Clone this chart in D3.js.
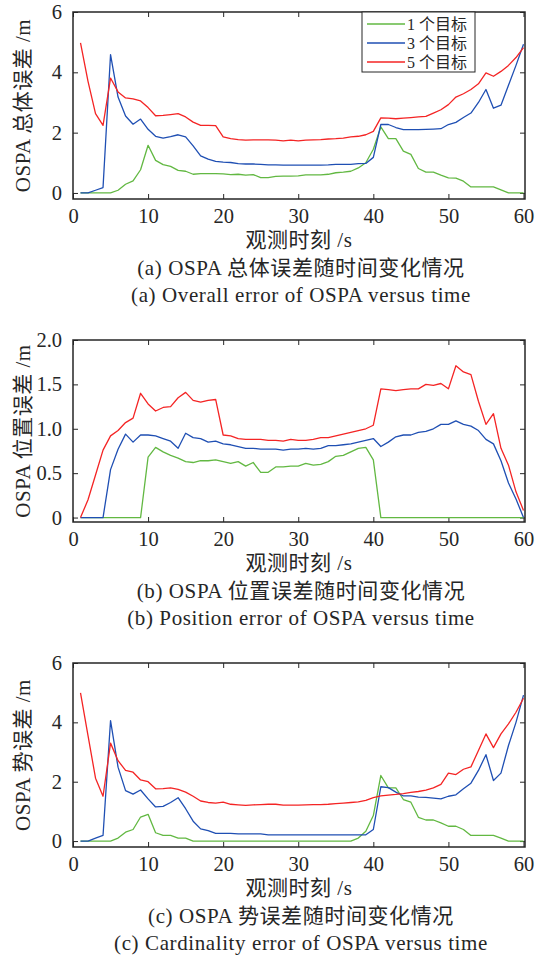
<!DOCTYPE html>
<html>
<head>
<meta charset="utf-8">
<script src="https://cdn.jsdelivr.net/npm/d3@7"></script>
<style>
  body { margin: 0; background: #fff; }
  svg { display: block; }
  text { font-family: "Liberation Serif", "Noto Sans CJK SC", serif; fill: #262626; }
</style>
</head>
<body>
<script>
"use strict";

// observation time steps (s)
const timeSteps = d3.range(1, 61);

const seriesNames = ["1 个目标", "3 个目标", "5 个目标"];
const seriesColors = ["#62b842", "#1f4fb3", "#f42424"];

const xTicks = [0, 10, 20, 30, 40, 50, 60];

// (a) overall OSPA error
const overallOne = [0, 0, 0, 0, 0, 0.09, 0.29, 0.4, 0.77, 1.58, 1.08, 0.94, 0.88, 0.75, 0.72, 0.62, 0.64, 0.64, 0.64, 0.63,
  0.61, 0.62, 0.59, 0.61, 0.51, 0.51, 0.55, 0.56, 0.56, 0.57, 0.6, 0.6, 0.6, 0.62, 0.67, 0.69, 0.72, 0.83, 1.0, 1.45,
  2.19, 1.8, 1.8, 1.39, 1.28, 0.81, 0.69, 0.69, 0.59, 0.5, 0.49, 0.39, 0.2, 0.2, 0.2, 0.2, 0.1, 0, 0, 0];
const overallThree = [0, 0, 0.09, 0.18, 4.59, 3.18, 2.55, 2.28, 2.45, 2.11, 1.88, 1.82, 1.87, 1.93, 1.86, 1.56, 1.23, 1.12, 1.05, 1.02,
  1.01, 0.97, 0.96, 0.96, 0.95, 0.93, 0.93, 0.92, 0.92, 0.92, 0.92, 0.92, 0.92, 0.93, 0.95, 0.95, 0.95, 0.97, 0.98, 1.18,
  2.27, 2.27, 2.17, 2.1, 2.1, 2.1, 2.11, 2.12, 2.13, 2.27, 2.34, 2.5, 2.65, 3.0, 3.43, 2.81, 2.91, 3.57, 4.23, 4.93];
const overallFive = [4.98, 3.7, 2.63, 2.24, 3.81, 3.35, 3.15, 3.12, 3.05, 2.83, 2.56, 2.57, 2.6, 2.63, 2.52, 2.35, 2.24, 2.24, 2.23, 1.86,
  1.8, 1.77, 1.75, 1.76, 1.76, 1.76, 1.75, 1.73, 1.75, 1.73, 1.75, 1.76, 1.77, 1.79, 1.8, 1.82, 1.86, 1.88, 1.93, 2.04,
  2.49, 2.48, 2.46, 2.48, 2.5, 2.52, 2.54, 2.65, 2.76, 2.93, 3.18, 3.29, 3.43, 3.62, 3.98, 3.87, 4.03, 4.23, 4.49, 4.82];

// (b) position error
const positionOne = [0, 0, 0, 0, 0, 0, 0, 0, 0, 0.68, 0.79, 0.74, 0.7, 0.67, 0.63, 0.62, 0.64, 0.64, 0.65, 0.63,
  0.61, 0.63, 0.58, 0.62, 0.51, 0.51, 0.57, 0.57, 0.58, 0.58, 0.61, 0.59, 0.6, 0.63, 0.69, 0.7, 0.74, 0.78, 0.79, 0.65,
  0, 0, 0, 0, 0, 0, 0, 0, 0, 0, 0, 0, 0, 0, 0, 0, 0, 0, 0, 0];
const positionThree = [0, 0, 0, 0, 0.54, 0.77, 0.94, 0.85, 0.93, 0.93, 0.92, 0.89, 0.86, 0.78, 0.95, 0.9, 0.89, 0.85, 0.86, 0.83,
  0.82, 0.8, 0.78, 0.78, 0.77, 0.77, 0.77, 0.76, 0.77, 0.77, 0.78, 0.77, 0.78, 0.81, 0.81, 0.82, 0.83, 0.85, 0.87, 0.89,
  0.8, 0.85, 0.91, 0.93, 0.93, 0.96, 0.97, 1.0, 1.05, 1.05, 1.09, 1.05, 1.03, 0.98, 0.88, 0.83, 0.64, 0.39, 0.21, 0];
const positionFive = [0, 0.2, 0.48, 0.76, 0.92, 0.98, 1.07, 1.12, 1.4, 1.28, 1.2, 1.24, 1.25, 1.35, 1.41, 1.32, 1.3, 1.32, 1.33, 0.93,
  0.92, 0.89, 0.88, 0.88, 0.88, 0.87, 0.87, 0.86, 0.88, 0.87, 0.87, 0.88, 0.9, 0.9, 0.92, 0.94, 0.96, 0.98, 1.0, 1.04,
  1.45, 1.44, 1.43, 1.44, 1.45, 1.45, 1.5, 1.49, 1.51, 1.45, 1.71, 1.64, 1.61, 1.31, 1.05, 1.17, 0.78, 0.59, 0.29, 0.08];

// (c) cardinality error
const cardinalityOne = [0, 0, 0, 0, 0, 0.1, 0.3, 0.39, 0.81, 0.9, 0.28, 0.19, 0.19, 0.1, 0.1, 0, 0, 0, 0, 0,
  0, 0, 0, 0, 0, 0, 0, 0, 0, 0, 0, 0, 0, 0, 0, 0, 0, 0.1, 0.33, 0.86,
  2.21, 1.79, 1.79, 1.4, 1.31, 0.8, 0.71, 0.71, 0.61, 0.5, 0.5, 0.39, 0.19, 0.19, 0.19, 0.19, 0.1, 0, 0, 0];
const cardinalityThree = [0, 0, 0.1, 0.19, 4.06, 2.49, 1.7, 1.58, 1.72, 1.42, 1.15, 1.17, 1.3, 1.46, 1.09, 0.67, 0.41, 0.35, 0.26, 0.26,
  0.26, 0.24, 0.24, 0.24, 0.24, 0.21, 0.21, 0.21, 0.21, 0.21, 0.21, 0.21, 0.21, 0.21, 0.21, 0.21, 0.21, 0.21, 0.21, 0.39,
  1.83, 1.8, 1.65, 1.52, 1.52, 1.48, 1.47, 1.45, 1.42, 1.51, 1.56, 1.76, 1.95, 2.38, 2.91, 2.04, 2.29, 3.22, 4.0, 4.92];
const cardinalityFive = [4.99, 3.55, 2.12, 1.51, 3.3, 2.71, 2.38, 2.32, 2.06, 2.0, 1.76, 1.77, 1.79, 1.74, 1.65, 1.51, 1.35, 1.3, 1.28, 1.31,
  1.24, 1.22, 1.2, 1.22, 1.23, 1.24, 1.24, 1.21, 1.21, 1.21, 1.22, 1.23, 1.23, 1.24, 1.26, 1.28, 1.3, 1.32, 1.37, 1.46,
  1.52, 1.55, 1.57, 1.6, 1.64, 1.67, 1.72, 1.79, 1.91, 2.29, 2.24, 2.42, 2.5, 3.05, 3.61, 3.15, 3.61, 3.95, 4.34, 4.81];

const width = 535;
const height = 960;

const svg = d3.select("body")
  .append("svg")
  .attr("width", width)
  .attr("height", height);

/**
 * Draw one boxed MATLAB-ish panel with three series
 */
function drawPanel(cfg) {
  const { top, bottom, left, right } = cfg.box;
  const x = d3.scaleLinear().domain([0, 60.2]).range([left, right]);
  const y = d3.scaleLinear().domain(cfg.yDomain).range([bottom, top]);

  const g = svg.append("g");
  const tickLen = 5;
  const axisColor = "#262626";

  // bottom axis (labels) and top axis (ticks only)
  const xAxis = g.append("g")
    .attr("transform", `translate(0,${bottom})`)
    .call(d3.axisBottom(x).tickValues(xTicks).tickSize(-tickLen).tickPadding(tickLen + 4).tickFormat(d3.format("d")));
  const xAxisTop = g.append("g")
    .attr("transform", `translate(0,${top})`)
    .call(d3.axisTop(x).tickValues(xTicks).tickSize(-tickLen).tickFormat(""));

  const yAxis = g.append("g")
    .attr("transform", `translate(${left},0)`)
    .call(d3.axisLeft(y).tickValues(cfg.yTicks).tickSize(-tickLen).tickPadding(tickLen + 6).tickFormat(cfg.yFormat));
  const yAxisRight = g.append("g")
    .attr("transform", `translate(${right},0)`)
    .call(d3.axisRight(y).tickValues(cfg.yTicks).tickSize(-tickLen).tickFormat(""));

  [xAxis, xAxisTop, yAxis, yAxisRight].forEach((a) => {
    a.select(".domain").remove();
    a.selectAll("line").attr("stroke", axisColor).attr("stroke-width", 1);
    a.selectAll("text")
      .attr("font-size", 20.5)
      .attr("font-family", "Liberation Serif, serif")
      .attr("fill", "#262626");
  });

  g.append("rect")
    .attr("x", left)
    .attr("y", top)
    .attr("width", right - left)
    .attr("height", bottom - top)
    .attr("fill", "none")
    .attr("stroke", axisColor)
    .attr("stroke-width", 1.5);

  const line = d3.line()
    .x((d, i) => x(timeSteps[i]))
    .y((d) => y(d));

  g.append("g")
    .selectAll("path")
    .data(cfg.series)
    .join("path")
    .attr("d", (d) => line(d))
    .attr("fill", "none")
    .attr("stroke", (d, i) => seriesColors[i])
    .attr("stroke-width", 1.3)
    .attr("stroke-linejoin", "round");

  const cx = (left + right) / 2;

  g.append("text")
    .attr("transform", `translate(30,${(top + bottom) / 2}) rotate(-90)`)
    .attr("text-anchor", "middle")
    .attr("font-size", 21)
    .attr("letter-spacing", 0.5)
    .text(cfg.yLabel);

  g.append("text")
    .attr("x", cx)
    .attr("y", bottom + 48)
    .attr("text-anchor", "middle")
    .attr("font-size", 21)
    .attr("letter-spacing", 0.5)
    .text("观测时刻 /s");

  cfg.captions.forEach((c, i) => {
    g.append("text")
      .attr("x", cx + 2)
      .attr("y", bottom + 76 + i * 27)
      .attr("text-anchor", "middle")
      .attr("font-size", 21)
      .attr("letter-spacing", 0.6)
      .text(c);
  });

  if (cfg.legend) {
    const lg = g.append("g").attr("transform", `translate(${right - 163},${top})`);
    lg.append("rect")
      .attr("width", 113)
      .attr("height", 60)
      .attr("fill", "#fff")
      .attr("stroke", axisColor)
      .attr("stroke-width", 1);
    seriesNames.forEach((name, i) => {
      const ly = 12 + i * 19;
      lg.append("line")
        .attr("x1", 5).attr("x2", 43)
        .attr("y1", ly).attr("y2", ly)
        .attr("stroke", seriesColors[i])
        .attr("stroke-width", 1.3);
      lg.append("text")
        .attr("x", 45)
        .attr("y", ly)
        .attr("dy", "0.35em")
        .attr("font-size", 16)
        .text(name);
    });
  }
}

drawPanel({
  box: { top: 12, bottom: 199, left: 73, right: 525 },
  yDomain: [-0.2, 6],
  yTicks: [0, 2, 4, 6],
  yFormat: d3.format("d"),
  yLabel: "OSPA 总体误差 /m",
  series: [overallOne, overallThree, overallFive],
  captions: ["(a) OSPA 总体误差随时间变化情况", "(a) Overall error of OSPA versus time"],
  legend: true
});

drawPanel({
  box: { top: 340, bottom: 522, left: 73, right: 525 },
  yDomain: [-0.05, 2],
  yTicks: [0, 0.5, 1, 1.5, 2],
  yFormat: (d) => (d === 0 ? "0" : d3.format(".1f")(d)),
  yLabel: "OSPA 位置误差 /m",
  series: [positionOne, positionThree, positionFive],
  captions: ["(b) OSPA 位置误差随时间变化情况", "(b) Position error of OSPA versus time"],
  legend: false
});

drawPanel({
  box: { top: 663, bottom: 847, left: 73, right: 525 },
  yDomain: [-0.2, 6],
  yTicks: [0, 2, 4, 6],
  yFormat: d3.format("d"),
  yLabel: "OSPA 势误差 /m",
  series: [cardinalityOne, cardinalityThree, cardinalityFive],
  captions: ["(c) OSPA 势误差随时间变化情况", "(c) Cardinality error of OSPA versus time"],
  legend: false
});
</script>
</body>
</html>
